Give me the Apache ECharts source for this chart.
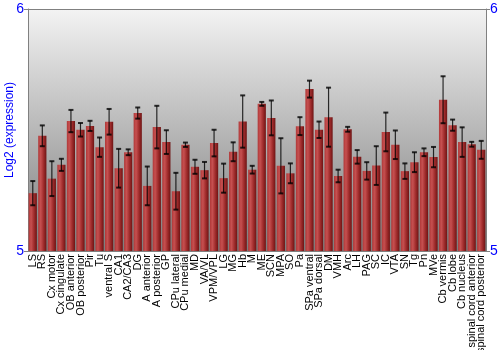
<!DOCTYPE html>
<html><head><meta charset="utf-8">
<script src="https://cdn.jsdelivr.net/npm/echarts@6/dist/echarts.min.js"></script>
<style>html,body{margin:0;padding:0;background:#fff}#c{width:500px;height:350px}</style>
</head><body><div id="c"></div>
<script>
var categories = ["LS","RS","Cx motor","Cx cingulate","OB anterior","OB posterior","Pir","Tu","ventral S","CA1","CA2/CA3","DG","A anterior","A posterior","GP","CPu lateral","CPu medial","MD","VA/VL","VPM/VPL","LG","MG","Hb","M","ME","SCN","MPA","SO","Pa","SPa ventral","SPa dorsal","DM","VMH","Arc","LH","PAG","SC","IC","VTA","SN","Tg","Pn","MVe","Cb vermis","Cb lobe","Cb nucleus","spinal cord anterior","spinal cord posterior"];
var values = [5.239,5.476,5.299,5.356,5.537,5.501,5.517,5.429,5.534,5.342,5.408,5.570,5.269,5.512,5.450,5.247,5.439,5.348,5.334,5.446,5.301,5.410,5.535,5.336,5.608,5.550,5.352,5.321,5.516,5.669,5.501,5.553,5.310,5.503,5.389,5.331,5.353,5.492,5.439,5.330,5.367,5.408,5.388,5.625,5.520,5.450,5.441,5.418];
var errors = [0.050,0.043,0.072,0.025,0.046,0.028,0.021,0.040,0.053,0.080,0.012,0.023,0.080,0.088,0.049,0.076,0.009,0.029,0.034,0.055,0.060,0.039,0.108,0.016,0.008,0.072,0.114,0.041,0.037,0.035,0.034,0.122,0.026,0.010,0.028,0.036,0.080,0.080,0.059,0.032,0.041,0.016,0.042,0.097,0.023,0.061,0.010,0.037];
var yTicks = [5, 6];
var yTitle = 'Log2 (expression)';

var chart = echarts.init(document.getElementById('c'), null, {renderer:'canvas'});
var errData = values.map(function(v,i){ return [i, v - errors[i], v + errors[i]]; });
var axisLabelStyle = {color:'#0000ff', fontSize:14, fontFamily:'Liberation Sans, Arial, sans-serif'};
chart.setOption({
  animation:false,
  grid:{left:28, right:14, top:9, bottom:99, show:true, borderWidth:0, containLabel:false, outerBoundsMode:'none',
    backgroundColor:new echarts.graphic.LinearGradient(0,0,0,1,[{offset:0,color:'#f3f3f3'},{offset:1,color:'#7c7c7c'}])},
  xAxis:{type:'category', data:categories, axisTick:{show:false},
    axisLine:{show:true, lineStyle:{color:'#808080', width:1}},
    axisLabel:{rotate:90, interval:0, margin:3, color:'#000', fontSize:11, fontFamily:'Liberation Sans, Arial, sans-serif'}},
  yAxis:[
    {type:'value', min:yTicks[0], max:yTicks[1], interval:1, position:'left',
     axisLine:{show:true, lineStyle:{color:'#808080'}}, axisTick:{show:true, length:4, lineStyle:{color:'#808080'}},
     splitLine:{show:false}, axisLabel:Object.assign({margin:4}, axisLabelStyle)},
    {type:'value', min:yTicks[0], max:yTicks[1], interval:1, position:'right',
     axisLine:{show:true, lineStyle:{color:'#808080'}}, axisTick:{show:true, length:4, lineStyle:{color:'#808080'}},
     splitLine:{show:false}, axisLabel:Object.assign({margin:4}, axisLabelStyle)}
  ],
  graphic:[
    {type:'line', shape:{x1:28,y1:9.5,x2:486,y2:9.5}, style:{stroke:'#808080', lineWidth:1}, z:10},
    {type:'text', x:10, y:130, rotation:Math.PI/2, z:10,
     style:{text:yTitle, align:'center', verticalAlign:'middle', fill:'#0000ff', font:'12px "Liberation Sans", Arial, sans-serif'}}
  ],
  series:[
    {type:'bar', data:values, barCategoryGap:'14%',
     itemStyle:{color:new echarts.graphic.LinearGradient(0,0,1,0,[
        {offset:0,color:'#b03838'},{offset:0.3,color:'#c65050'},{offset:0.65,color:'#a02c2c'},{offset:1,color:'#6e1414'}])}},
    {type:'custom', data:errData, z:5,
     renderItem:function(params, api){
        var x = api.value(0);
        var lo = api.coord([x, api.value(1)]);
        var hi = api.coord([x, api.value(2)]);
        var hw = 2.5;
        var st = {stroke:'rgba(0,0,0,0.8)', lineWidth:1.2};
        return {type:'group', children:[
          {type:'line', shape:{x1:lo[0],y1:lo[1],x2:hi[0],y2:hi[1]}, style:st},
          {type:'line', shape:{x1:lo[0]-hw,y1:lo[1],x2:lo[0]+hw,y2:lo[1]}, style:{stroke:'rgba(0,0,0,0.8)', lineWidth:2}},
          {type:'line', shape:{x1:hi[0]-hw,y1:hi[1],x2:hi[0]+hw,y2:hi[1]}, style:{stroke:'rgba(0,0,0,0.8)', lineWidth:2}}
        ]};
     }}
  ]
});
</script></body></html>
